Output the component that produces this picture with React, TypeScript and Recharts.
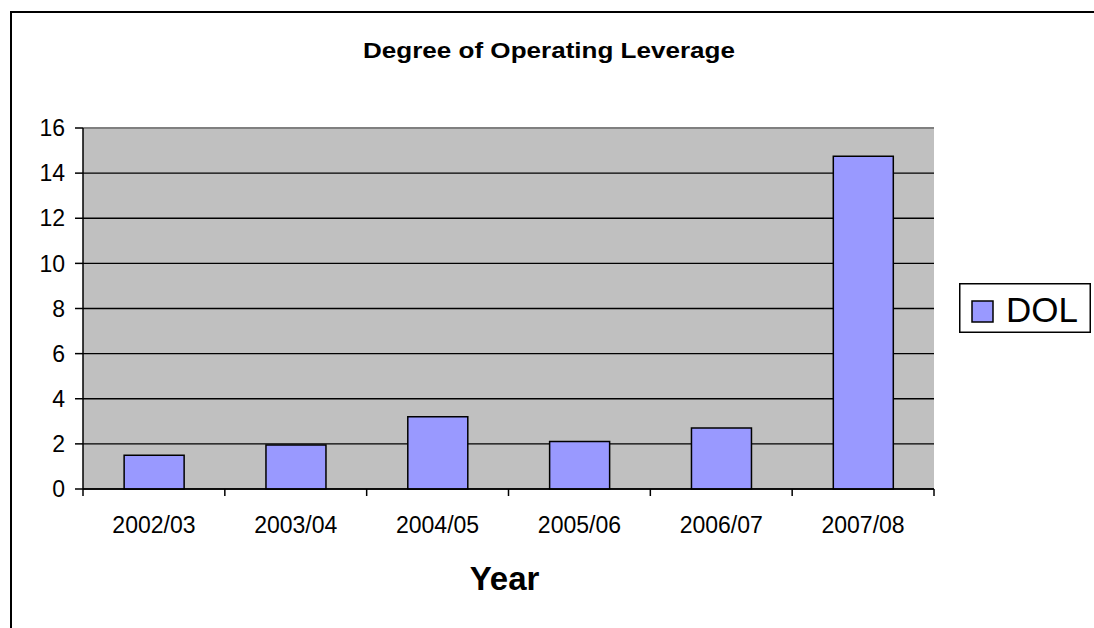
import React from 'react';
import { BarChart, Bar, XAxis, YAxis, CartesianGrid, Legend, ReferenceLine } from 'recharts';

const categories = ['2002/03', '2003/04', '2004/05', '2005/06', '2006/07', '2007/08'];
const dolValues = [1.5, 1.95, 3.2, 2.1, 2.7, 14.75];
const yTicks = [0, 2, 4, 6, 8, 10, 12, 14, 16];
const seriesName = 'DOL';
const chartTitle = 'Degree of Operating Leverage';
const xAxisTitle = 'Year';

const data = categories.map((c, i) => ({ year: c, DOL: dolValues[i] }));

const FONT = '"Liberation Sans", Arial, sans-serif';

const XTick = (props: any) => {
  const { x, y, payload, index } = props;
  const half = payload && payload.offset != null ? payload.offset : 0;
  const last = index === categories.length - 1;
  return (
    <g>
      <line x1={x - half} y1={y - 7} x2={x - half} y2={y} stroke="#000" strokeWidth={1.5} />
      {last && <line x1={x + half} y1={y - 7} x2={x + half} y2={y} stroke="#000" strokeWidth={1.5} />}
      <text x={x} y={y + 37} textAnchor="middle" fontSize={23} fontFamily={FONT} fill="#000">
        {payload.value}
      </text>
    </g>
  );
};

const renderLegend = (props: any) => {
  const items = props.payload || [];
  return (
    <svg width={132} height={50} style={{ display: 'block' }}>
      <rect x={0.75} y={0.75} width={130.5} height={48.5} fill="#fff" stroke="#000" strokeWidth={1.5} />
      {items.map((it: any, i: number) => (
        <g key={i}>
          <rect x={13} y={18} width={21} height={21} fill={it.color} stroke="#000" strokeWidth={1.5} />
          <text x={47} y={39} fontSize={35} fontFamily={FONT} fill="#000">
            {it.value}
          </text>
        </g>
      ))}
    </svg>
  );
};

export default function App() {
  return (
    <div
      style={{
        position: 'absolute',
        left: 0,
        top: 0,
        width: 1094,
        height: 628,
        background: '#fff',
        overflow: 'hidden',
        fontFamily: FONT,
      }}
    >
      <div
        style={{
          position: 'absolute',
          left: 10,
          top: 11,
          width: 1200,
          height: 800,
          border: '2px solid #000',
        }}
      />
      <div style={{ position: 'absolute', left: 0, top: 0 }}>
        <BarChart
          width={1094}
          height={628}
          data={data}
          margin={{ top: 128, right: 160, left: 23, bottom: 109 }}
          barCategoryGap="29%"
        >
          <CartesianGrid vertical={false} fill="#C0C0C0" stroke="#000" strokeWidth={1.3} />
          <XAxis
            dataKey="year"
            height={30}
            interval={0}
            tickSize={7}
            tickMargin={0}
            tickLine={false}
            axisLine={{ stroke: '#000', strokeWidth: 1.5 }}
            tick={<XTick />}
          />
          <YAxis
            width={60}
            domain={[0, 16]}
            ticks={yTicks}
            interval={0}
            tickSize={8}
            tickMargin={10}
            axisLine={{ stroke: '#000', strokeWidth: 1.5 }}
            tickLine={{ stroke: '#000', strokeWidth: 1.5 }}
            tick={{ fontSize: 23, fill: '#000', fontFamily: FONT }}
          />
          <ReferenceLine y={16} stroke="#808080" strokeWidth={2} />
          <ReferenceLine x={categories[categories.length - 1]} position="end" stroke="#808080" strokeWidth={2} />
          <Bar
            dataKey="DOL"
            name={seriesName}
            fill="#9999FF"
            stroke="#000"
            strokeWidth={1.5}
            isAnimationActive={false}
          />
          <Legend
            layout="horizontal"
            verticalAlign="middle"
            align="center"
            wrapperStyle={{ left: 959, top: 283, width: 132, height: 50 }}
            content={renderLegend}
          />
        </BarChart>
      </div>
      <svg
        width={1094}
        height={628}
        style={{ position: 'absolute', left: 0, top: 0, pointerEvents: 'none' }}
      >
        <text
          x={549}
          y={58}
          textAnchor="middle"
          fontSize={22}
          fontWeight="bold"
          fontFamily={FONT}
          textLength={372}
          lengthAdjust="spacingAndGlyphs"
          fill="#000"
        >
          {chartTitle}
        </text>
        <text x={504.5} y={590} textAnchor="middle" fontSize={33} fontWeight="bold" fontFamily={FONT} fill="#000">
          {xAxisTitle}
        </text>
      </svg>
    </div>
  );
}
